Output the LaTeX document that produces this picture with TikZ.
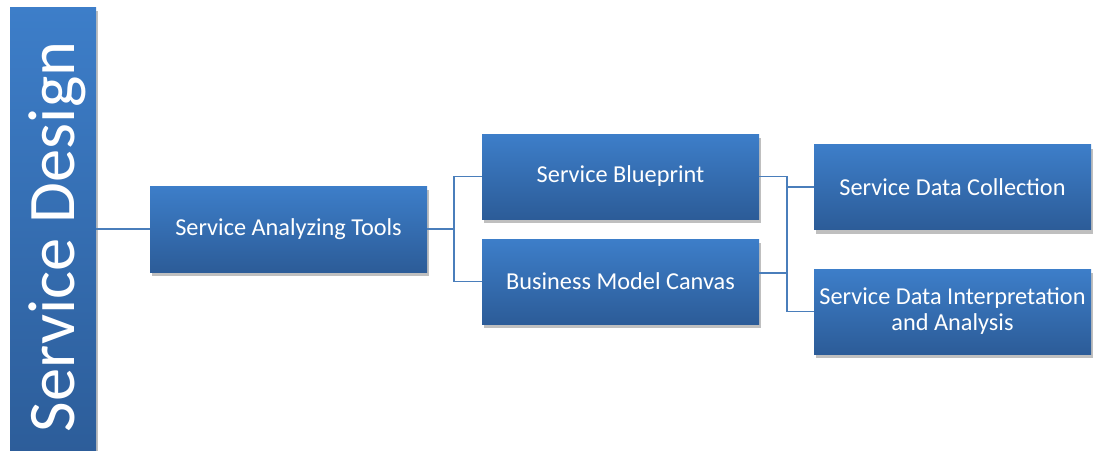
\documentclass[tikz,border=0pt]{standalone}
\usepackage{fontspec}
\setmainfont{Carlito}
\usetikzlibrary{shadows}
\definecolor{boxtop}{RGB}{61,126,201}
\definecolor{boxbot}{RGB}{44,92,152}
\definecolor{linkc}{RGB}{74,126,187}
\tikzset{
  box/.style={rectangle, inner sep=0pt, minimum width=277pt, minimum height=85pt,
    top color=boxtop, bottom color=boxbot, text=white, align=center,
    font=\fontsize{24.3}{26}\selectfont,
    drop shadow={shadow xshift=1.5pt, shadow yshift=-4pt, opacity=0.25, fill=black}},
  link/.style={draw=linkc, line width=1.4pt}
}
\begin{document}
\begin{tikzpicture}[x=1pt,y=-1pt]
\useasboundingbox (0,0) rectangle (1095,450);
\node[box, minimum width=86pt, minimum height=460pt] (sd) at (53,237) {};
\node[rotate=90, anchor=base, text=white, font=\fontsize{66.5}{70}\selectfont] (sdt) at (74,237) {Service Design};
\node[box, minimum height=86pt] (sat) at (288.5,229) {Service Analyzing Tools};
\node[box] (sb) at (620.5,176.5) {Service Blueprint};
\node[box] (bmc) at (620.5,281.5) {Business Model Canvas};
\node[box] (sdc) at (952.5,187) {Service Data Collection};
\node[box] (sdia) at (952.5,311.5) {Service Data Interpretation\\and Analysis};
\coordinate (j1) at (454,229);
\coordinate (j2) at (787,187);
\coordinate (j3) at (787,273);
\draw[link] (sd.east |- sat.west) -- (sat.west);
\draw[link] (sat.east) -- (j1);
\draw[link] (sb.west) -| (j1) |- (bmc.west);
\draw[link] (sb.east) -| (j2) -- (sdc.west);
\draw[link] (j2) |- (sdia.west);
\draw[link] (j3 -| bmc.east) -- (j3);
\end{tikzpicture}
\end{document}
